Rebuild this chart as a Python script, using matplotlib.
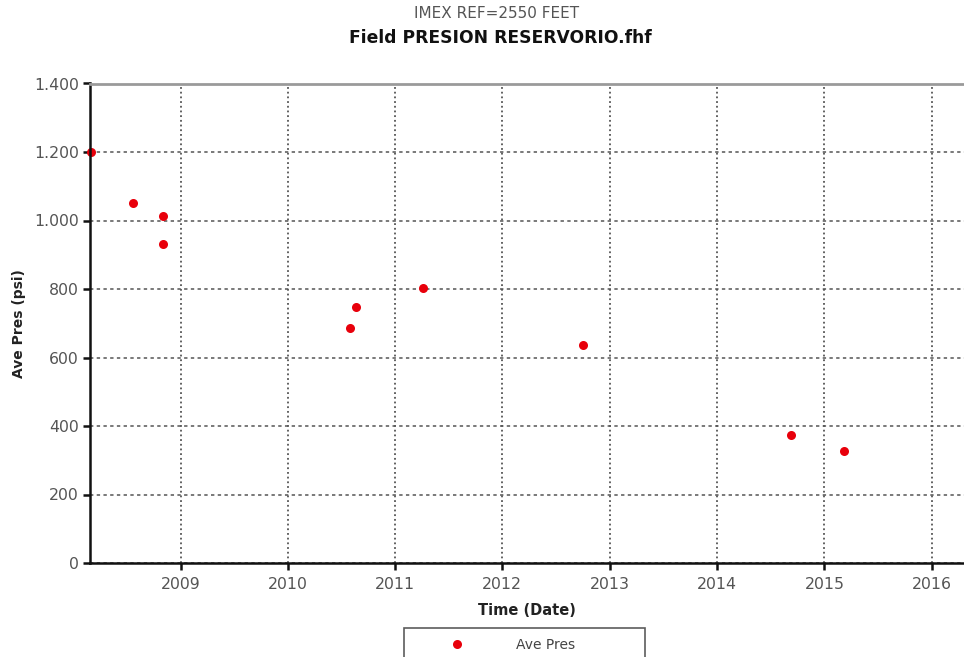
import pandas as pd
import matplotlib
matplotlib.use("Agg")
import matplotlib.pyplot as plt
import matplotlib.dates as mdates
from matplotlib.ticker import FuncFormatter, MultipleLocator

# Average reservoir pressure readings
dates = ["2008-03-01", "2008-07-25", "2008-11-01", "2008-11-01", "2010-08-02",
         "2010-08-20", "2011-04-05", "2012-10-01", "2014-09-10", "2015-03-10"]
ave_pres = [1200, 1052, 1012, 930, 686, 746, 803, 637, 374, 328]

x = pd.to_datetime(dates)

plt.rcParams['font.family'] = ['DejaVu Sans']

fig = plt.figure(figsize=(9.64, 6.57), dpi=100)
ax = fig.add_axes([90 / 964, 94 / 657, 1 - 90 / 964, 479.5 / 657])

ax.plot(x, ave_pres, linestyle='none', marker='o', markersize=6.5,
        color='#e8000b', markeredgewidth=0, label='Ave Pres', clip_on=False)

ax.set_xlim(pd.Timestamp("2008-02-28"), pd.Timestamp("2016-04-20"))
ax.set_ylim(0, 1400)
ax.xaxis.set_major_locator(mdates.YearLocator())
ax.xaxis.set_major_formatter(mdates.DateFormatter('%Y'))
ax.yaxis.set_major_locator(MultipleLocator(200))
ax.yaxis.set_major_formatter(FuncFormatter(lambda v, p: f"{int(v):,}".replace(",", ".")))

# grid: dashed horizontals, dotted verticals
ax.yaxis.grid(True, color='#555555', linestyle=(0, (2.2, 2.2)), linewidth=1.1)
ax.xaxis.grid(True, color='#555555', linestyle=(0, (1, 1.6)), linewidth=1.3)
ax.set_axisbelow(True)

for s in ['left', 'bottom']:
    ax.spines[s].set_linewidth(1.8)
    ax.spines[s].set_color('#111111')
ax.spines['top'].set_linewidth(2)
ax.spines['top'].set_color('#9a9a9a')
ax.spines['right'].set_visible(False)

ax.tick_params(axis='both', direction='out', length=5, width=1.8, color='#111111',
               labelsize=11.3, labelcolor='#555555')
ax.tick_params(axis='x', pad=5)
ax.tick_params(axis='y', pad=3)

ax.set_xlabel('Time (Date)', fontsize=10.5, fontweight='bold', color='#222222', labelpad=8)
ax.set_ylabel('Ave Pres (psi)', fontsize=10, fontweight='bold', color='#222222', labelpad=6)

fig.text(497 / 964, 1 - 14 / 657, 'IMEX REF=2550 FEET', ha='center', va='center',
         fontsize=11, color='#555555')
fig.text(500 / 964, 1 - 38 / 657, 'Field PRESION RESERVORIO.fhf', ha='center', va='center',
         fontsize=12.3, fontweight='bold', color='#111111')

leg = fig.legend(loc='upper left', bbox_to_anchor=(404 / 964, 1 - 628 / 657 - 0.05, 241 / 964, 0.05),
                 mode='expand', frameon=True, fancybox=False, fontsize=10,
                 handlelength=6.2, handletextpad=1.2, borderpad=0.7, borderaxespad=0)
leg.get_frame().set_edgecolor('#333333')
leg.get_frame().set_linewidth(1.2)
for t in leg.get_texts():
    t.set_color('#444444')

fig.savefig('out.png', dpi=100)
